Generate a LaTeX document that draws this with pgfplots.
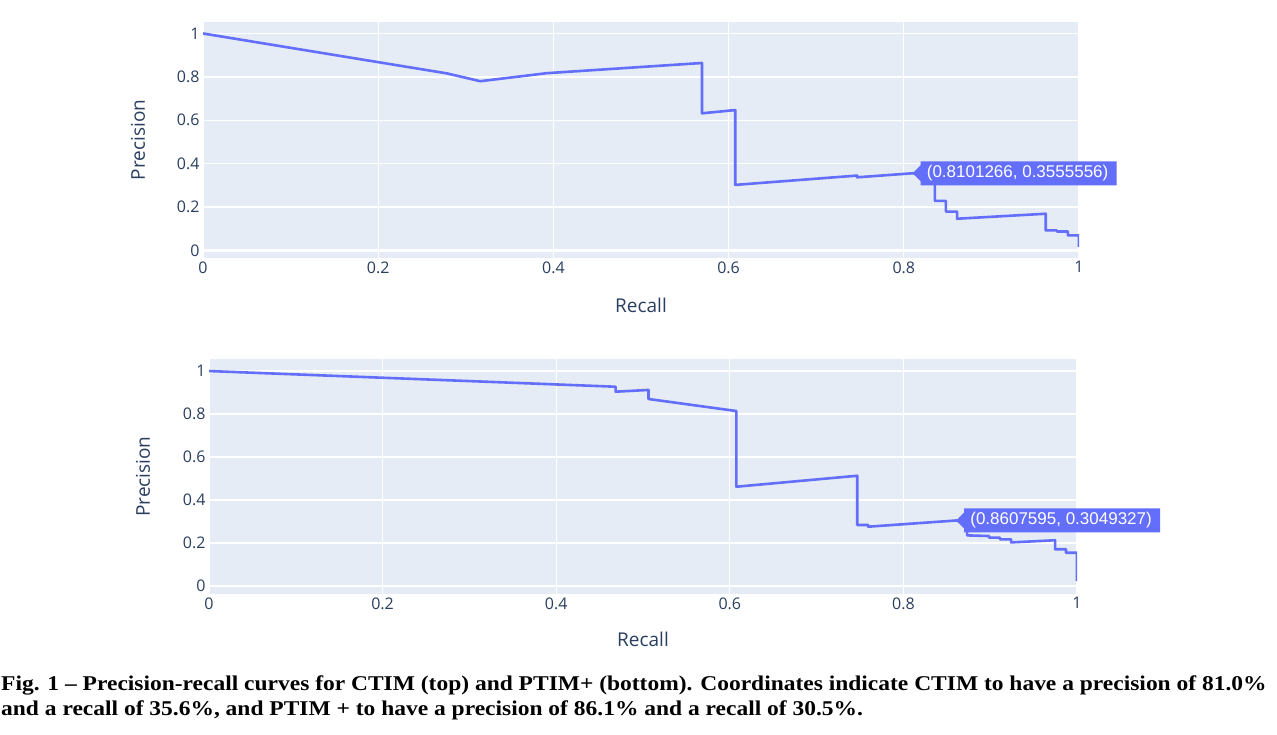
\documentclass[border=0pt]{standalone}
\usepackage{pgfplots}
\pgfplotsset{compat=1.18}
\usepackage{fontspec}
\setmainfont{Open Sans}
\newfontfamily\capfont{Liberation Serif}
\newfontfamily\hoverfont{Liberation Sans}

\definecolor{plotbg}{HTML}{E5ECF6}
\definecolor{trace}{HTML}{636EFA}
\definecolor{inkc}{HTML}{2A3F5F}

% plotly-like look shared by both panels
\pgfplotsset{
    plotlystyle/.style={
        scale only axis,
        xmin=0, xmax=1,
        xtick={0,0.2,0.4,0.6,0.8,1},
        ytick={0,0.2,0.4,0.6,0.8,1},
        extra y ticks={0},
        extra y tick labels={},
        extra y tick style={grid style={white, line width=2.6pt}},
        xmajorgrids=true, ymajorgrids=true,
        grid style={white, line width=1.3pt},
        axis line style={draw=none},
        major tick length=0pt,
        axis background/.style={fill=plotbg},
        tick label style={text=inkc, font=\fontsize{16}{18}\selectfont},
        /pgf/number format/assume math mode=true,
        label style={text=inkc, font=\fontsize{19}{22}\selectfont},
    },
}

\begin{document}
\begin{tikzpicture}[x=1pt,y=1pt]
\useasboundingbox (0,0) rectangle (1277,734);
\fill[white] (0,0) rectangle (1277,734);

% ---- top panel: CTIM
\begin{axis}[
    plotlystyle,
    at={(203pt,476pt)}, anchor=south west,
    width=876pt, height=236pt,
    ymin=-0.035, ymax=1.053,
    xlabel={Recall}, ylabel={Precision},
    xlabel style={at={(axis description cs:0.5,-0.199)}, anchor=center},
    ylabel style={at={(axis description cs:-0.0742,0.5)}, anchor=center},
]
\addplot[trace, line width=2.6pt, line join=round] coordinates {
(0,1)
(0.2785,0.816)
(0.3165,0.780)
(0.3924,0.817)
(0.5696,0.864)
(0.5696,0.632)
(0.6076,0.647)
(0.6076,0.302)
(0.7468,0.345)
(0.7468,0.337)
(0.8101266,0.3555556)
(0.8354,0.34)
(0.8354,0.2285)
(0.8481,0.2285)
(0.8481,0.179)
(0.8608,0.179)
(0.8608,0.146)
(0.9620,0.169)
(0.9620,0.092)
(0.9747,0.092)
(0.9747,0.087)
(0.9873,0.087)
(0.9873,0.069)
(1,0.069)
(1,0.016)
};
\coordinate (h1) at (axis cs:0.8101266,0.3555556);
\end{axis}

% ---- bottom panel: PTIM+
\begin{axis}[
    plotlystyle,
    at={(209pt,140pt)}, anchor=south west,
    width=868pt, height=235pt,
    ymin=-0.037, ymax=1.056,
    xlabel={Recall}, ylabel={Precision},
    xlabel style={at={(axis description cs:0.5,-0.191)}, anchor=center},
    ylabel style={at={(axis description cs:-0.076,0.5)}, anchor=center},
]
\addplot[trace, line width=2.6pt, line join=round] coordinates {
(0,1)
(0.4684,0.927)
(0.4684,0.904)
(0.5063,0.912)
(0.5063,0.870)
(0.6076,0.814)
(0.6076,0.462)
(0.7468,0.513)
(0.7468,0.284)
(0.7595,0.284)
(0.7595,0.276)
(0.8607595,0.3049327)
(0.8734,0.29)
(0.8734,0.2356)
(0.8987,0.2326)
(0.8987,0.225)
(0.9114,0.225)
(0.9114,0.217)
(0.9241,0.217)
(0.9241,0.203)
(0.9747,0.213)
(0.9747,0.171)
(0.9873,0.171)
(0.9873,0.155)
(1,0.155)
(1,0.023)
};
\coordinate (h2) at (axis cs:0.8607595,0.3049327);
\end{axis}

% hover labels
\foreach \h/\t in {h1/{(0.8101266, 0.3555556)}, h2/{(0.8607595, 0.3049327)}} {
  \fill[trace] (\h) -- ++(8,8) -- ++(0,4) -- ++(196,0) -- ++(0,-24) -- ++(-196,0) -- ++(0,4) -- cycle;
  \node[anchor=west, inner sep=0pt, text=white, font=\hoverfont\fontsize{17}{19}\selectfont]
    at (\h) [xshift=14pt] {\t};
}

% caption
\node[anchor=base west, inner sep=0pt, font=\capfont\bfseries\fontsize{21}{24}\selectfont]
  at (1,43.3) {\scalebox{1.118}[1]{Fig. 1 – Precision-recall curves for CTIM (top) and PTIM+ (bottom). Coordinates indicate CTIM to have a precision of 81.0\%}};
\node[anchor=base west, inner sep=0pt, font=\capfont\bfseries\fontsize{21}{24}\selectfont]
  at (1,19) {\scalebox{1.118}[1]{and a recall of 35.6\%, and PTIM + to have a precision of 86.1\% and a recall of 30.5\%.}};
\end{tikzpicture}
\end{document}
